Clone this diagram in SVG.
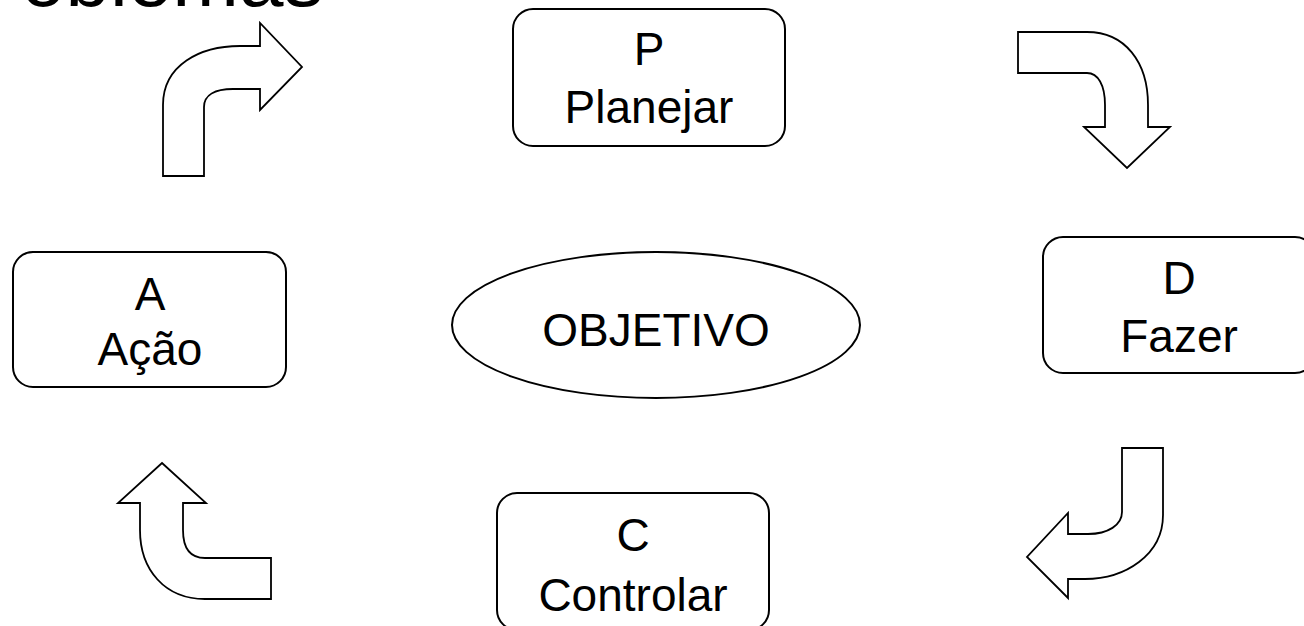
<svg xmlns="http://www.w3.org/2000/svg" width="1304" height="626" viewBox="0 0 1304 626">
<style>
.box{fill:#fff;stroke:#000;stroke-width:2}
.arr{fill:#fff;stroke:#000;stroke-width:1.8;stroke-linejoin:miter}
.t{font-family:"Liberation Sans",Arial,sans-serif;font-size:46px;fill:#000;text-anchor:middle}
.title{font-family:"Liberation Sans",Arial,sans-serif;font-size:80px;fill:#000}
</style>
<rect width="1304" height="626" fill="#fff"/>
<text class="title" x="21" y="6">oblemas</text>
<g id="connectors">
<path class="arr" d="M163,176 L163,105 C163,65 200,46 240,46 L260,46 L260,23 L302,67 L260,110 L260,89 L233,89 C215,89 204,95 204,107 L204,176 Z"/>
<path class="arr" d="M1018,32 L1087,32 C1125,32 1148,62 1148,105 L1148,127 L1170,127 L1127,168 L1084,127 L1105,127 L1105,105 C1105,85 1098,73 1087,73 L1018,73 Z"/>
<path class="arr" d="M1122,448 L1163,448 L1163,515 C1163,555 1125,579 1085,579 L1068,579 L1068,598 L1027,557 L1068,513 L1068,534 L1088,534 C1108,534 1122,525 1122,512 Z"/>
<path class="arr" d="M162,463 L206,503 L183,503 L183,530 C183,548 190,558 205,558 L271,558 L271,599 L205,599 C165,599 140,570 140,530 L140,503 L118,503 Z"/>
</g>
<g id="node-P">
<rect class="box" x="513" y="9" width="272" height="137" rx="20"/>
<text class="t" x="649" y="65">P</text>
<text class="t" x="649" y="123">Planejar</text>
</g>
<g id="node-D">
<rect class="box" x="1043" y="237" width="272" height="136" rx="20"/>
<text class="t" x="1179" y="294">D</text>
<text class="t" x="1179" y="352">Fazer</text>
</g>
<g id="node-C">
<rect class="box" x="497" y="493" width="272" height="137" rx="20"/>
<text class="t" x="633" y="551">C</text>
<text class="t" x="633" y="611">Controlar</text>
</g>
<g id="node-A">
<rect class="box" x="13" y="252" width="273" height="135" rx="20"/>
<text class="t" x="150" y="310">A</text>
<text class="t" x="150" y="365">Ação</text>
</g>
<g id="node-objetivo">
<ellipse class="box" cx="656" cy="325" rx="204" ry="73"/>
<text class="t" x="656" y="346">OBJETIVO</text>
</g>
</svg>
